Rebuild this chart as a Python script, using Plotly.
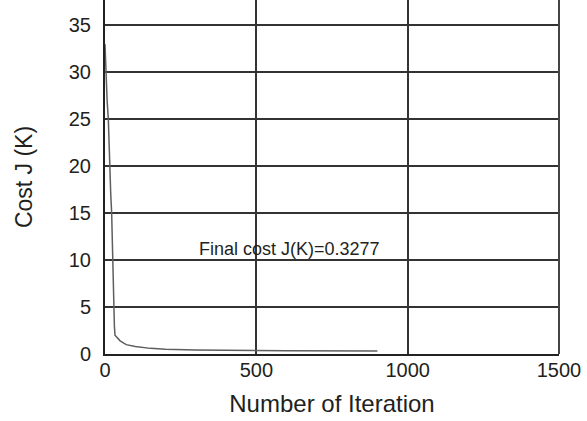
import plotly.graph_objects as go

iterations = [0, 3, 7, 11, 15, 19, 22, 25, 28, 31, 33, 40, 50, 70, 100, 150, 200, 300, 400, 600, 900]
cost = [33.0, 30.0, 27.0, 25.0, 20.0, 17.0, 15.0, 10.0, 5.0, 3.0, 2.0, 1.7, 1.4, 1.0, 0.8, 0.6, 0.5, 0.42, 0.38, 0.35, 0.3277]

x_ticks = [0, 500, 1000, 1500]
y_ticks = [0, 5, 10, 15, 20, 25, 30, 35]
annotation_text = "Final cost J(K)=0.3277"

fig = go.Figure()
fig.add_trace(go.Scatter(x=iterations, y=cost, mode="lines",
                         line=dict(color="#5e5e5e", width=1.5), showlegend=False))

font_family = "Liberation Sans, Arial, sans-serif"
fig.update_layout(
    width=587, height=421,
    margin=dict(l=105, r=28, t=0, b=67),
    paper_bgcolor="white", plot_bgcolor="white",
    font=dict(family=font_family, color="#231f20"),
)
fig.update_xaxes(range=[0, 1500], tickvals=x_ticks, showgrid=True, gridcolor="#333333", gridwidth=1.5,
                 showline=True, linecolor="#222222", linewidth=2, zeroline=False,
                 tickfont=dict(size=20), ticks="", ticklabelstandoff=-3,
                 title=dict(text="Number of Iteration", font=dict(size=24), standoff=15))
fig.update_yaxes(range=[0, 37.7], tickvals=y_ticks, showgrid=True, gridcolor="#333333", gridwidth=1.5,
                 showline=True, linecolor="#222222", linewidth=2, zeroline=False,
                 tickfont=dict(size=20), ticks="", ticklabelstandoff=8,
                 title=dict(text="Cost J (K)", font=dict(size=23), standoff=30))
fig.add_shape(type="line", xref="x domain", yref="y domain", x0=1, x1=1, y0=0, y1=1,
              line=dict(color="#444444", width=2))
fig.add_annotation(x=611, y=11.2, text=annotation_text, showarrow=False,
                   font=dict(size=18, color="#231f20"))

fig.write_html("out.html", config={"displayModeBar": False},
               post_script="document.body.style.margin='0';")
